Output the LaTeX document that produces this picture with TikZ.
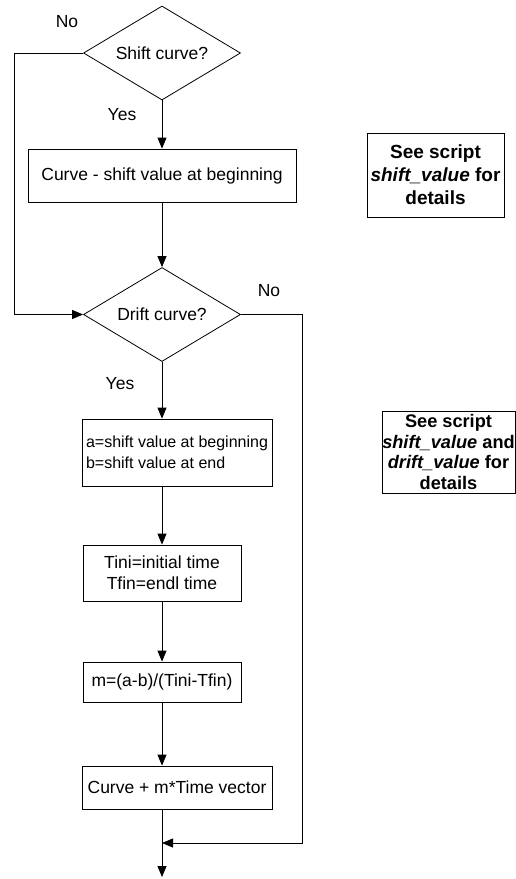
\documentclass[tikz,border=0pt]{standalone}
\usepackage{fontspec}
\setmainfont{Liberation Sans}
\usetikzlibrary{shapes.geometric,arrows.meta}
\begin{document}
\begin{tikzpicture}[x=1pt,y=-1pt,
  font=\fontsize{17.5}{21}\selectfont,
  line width=0.8pt,
  dia/.style={draw,diamond,aspect=1.67,inner sep=0pt,minimum width=157pt,minimum height=94pt},
  box/.style={draw,rectangle,inner sep=0pt,align=center},
  note/.style={draw,rectangle,inner sep=0pt,align=center,font=\fontsize{19}{23}\selectfont\bfseries},
  arr/.style={-{Triangle[length=11pt,width=9pt]}},
  lbl/.style={inner sep=0pt}]
\useasboundingbox (0,0) rectangle (516,879);
\node[dia] (d1) at (162,53) {Shift curve?};
\node[box,minimum width=268pt,minimum height=53pt] (b1) at (162,175.5) {Curve - shift value at beginning};
\node[dia] (d2) at (162,314.5) {Drift curve?};
\node[box,minimum width=190pt,minimum height=67pt,align=left,font=\fontsize{16}{21}\selectfont] (b2) at (177,452.5) {a=shift value at beginning\\b=shift value at end};
\node[box,minimum width=158pt,minimum height=56pt] (b3) at (162,573) {Tini=initial time\\Tfin=endl time};
\node[box,minimum width=158pt,minimum height=40pt] (b4) at (162,682) {m=(a-b)/(Tini-Tfin)};
\node[box,minimum width=190pt,minimum height=43pt] (b5) at (177,787.5) {Curve + m*Time vector};
\node[note,minimum width=137pt,minimum height=84pt] (n1) at (435.5,175) {See script\\\textit{shift\_value} for\\details};
\node[note,minimum width=133pt,minimum height=82pt,font=\fontsize{18.2}{20.5}\selectfont\bfseries] (n2) at (448.5,452) {See script\\\textit{shift\_value} and\\\textit{drift\_value} for\\details};
\node[lbl] (no1) at (67,22) {No};
\node[lbl] (yes1) at (122,115) {Yes};
\node[lbl] (no2) at (269,291) {No};
\node[lbl] (yes2) at (120,384) {Yes};
\coordinate (l1) at (14,53);
\coordinate (l2) at (14,314.5);
\coordinate (r1) at (302,314.5);
\coordinate (r2) at (302,843);
\coordinate (m) at (162,843);
\coordinate (end) at (162,877);
\draw[arr] (d1.south) -- (b1.north);
\draw[arr] (b1.south) -- (d2.north);
\draw[arr] (d2.south) -- (b2.north -| d2.south);
\draw[arr] (b2.south -| d2.south) -- (b3.north);
\draw[arr] (b3.south) -- (b4.north);
\draw[arr] (b4.south) -- (b5.north -| b4.south);
\draw[arr] (b5.south -| b4.south) -- (end);
\draw[arr] (d1.west) -- (l1) -- (l2) -- (d2.west);
\draw[arr] (d2.east) -- (r1) -- (r2) -- (m);
\end{tikzpicture}
\end{document}
